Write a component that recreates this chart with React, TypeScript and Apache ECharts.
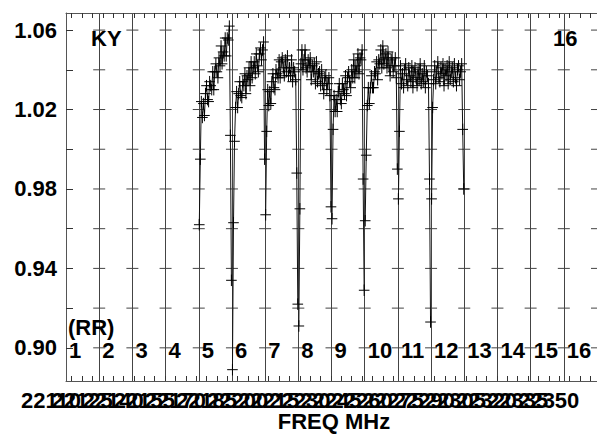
import React, { useEffect, useRef } from "react";
import * as echarts from "echarts";

// ---- axis furniture ----
const IF_NUMBERS = ["1", "2", "3", "4", "5", "6", "7", "8", "9", "10", "11", "12", "13", "14", "15", "16"];
const Y_TICKS = [0.9, 0.92, 0.94, 0.96, 0.98, 1.0, 1.02, 1.04, 1.06];
const Y_LABELS = [0.9, 0.94, 0.98, 1.02, 1.06];
const Y_MIN = 0.8833;
const Y_MAX = 1.0686;
const IF_BW = 16; // MHz per IF
const F_LEFT = 22117.26; // MHz at the left edge of IF 1
const X_LABEL_FREQS = [22110, 22125, 22140, 22155, 22170, 22185, 22200, 22215, 22230, 22245, 22260, 22275, 22290, 22305, 22320, 22335, 22350];
const TICK_FREQ_FIRST = 22120;
const TICK_FREQ_LAST = 22370;
const TICK_STEP = 5;
const toIF = (f: number) => (f - F_LEFT) / IF_BW;
const X_TICKS: number[] = [];
for (let f = TICK_FREQ_FIRST; f <= TICK_FREQ_LAST; f += TICK_STEP) X_TICKS.push(toIF(f));

// ---- bandpass amplitudes per IF (channels) ----
const IF5 = [0.962, 0.995, 1.024, 1.016, 1.023, 1.017, 1.028, 1.032, 1.025, 1.024, 1.034, 1.032, 1.030, 1.039, 1.030, 1.039, 1.043, 1.039, 1.036, 1.046, 1.042, 1.052, 1.043, 1.049, 1.047, 1.056, 1.047, 1.056, 1.055, 1.062, 1.007, 0.934];
const IF6 = [0.889, 0.963, 1.004, 1.021, 1.029, 1.021, 1.028, 1.034, 1.027, 1.026, 1.034, 1.032, 1.038, 1.028, 1.037, 1.035, 1.041, 1.032, 1.044, 1.036, 1.041, 1.044, 1.038, 1.048, 1.042, 1.039, 1.048, 1.051, 1.045, 1.050, 1.054, 0.995];
const IF7 = [0.967, 1.009, 1.030, 1.022, 1.029, 1.023, 1.034, 1.038, 1.031, 1.030, 1.040, 1.038, 1.036, 1.045, 1.036, 1.044, 1.046, 1.041, 1.037, 1.045, 1.039, 1.047, 1.037, 1.041, 1.037, 1.045, 1.034, 1.041, 1.039, 1.035, 0.988, 0.922];
const IF8 = [0.911, 0.970, 1.043, 1.050, 1.040, 1.045, 1.050, 1.041, 1.039, 1.045, 1.042, 1.046, 1.035, 1.042, 1.039, 1.043, 1.033, 1.044, 1.034, 1.038, 1.039, 1.032, 1.040, 1.033, 1.028, 1.036, 1.037, 1.030, 1.033, 1.036, 1.027, 0.971];
const IF9 = [0.965, 1.010, 1.027, 1.019, 1.025, 1.019, 1.029, 1.033, 1.025, 1.023, 1.033, 1.030, 1.028, 1.037, 1.027, 1.036, 1.039, 1.034, 1.031, 1.040, 1.036, 1.045, 1.036, 1.042, 1.039, 1.048, 1.038, 1.046, 1.045, 1.050, 0.985, 0.929];
const IF10 = [0.964, 0.997, 1.022, 1.031, 1.023, 1.031, 1.037, 1.031, 1.031, 1.039, 1.038, 1.044, 1.035, 1.045, 1.043, 1.050, 1.041, 1.052, 1.043, 1.046, 1.048, 1.041, 1.049, 1.042, 1.037, 1.045, 1.046, 1.039, 1.042, 1.046, 1.036, 0.990];
const IF11 = [0.975, 1.009, 1.042, 1.033, 1.038, 1.031, 1.040, 1.043, 1.035, 1.032, 1.041, 1.037, 1.034, 1.042, 1.031, 1.039, 1.041, 1.036, 1.032, 1.040, 1.035, 1.043, 1.033, 1.038, 1.034, 1.042, 1.031, 1.039, 1.037, 1.033, 0.985, 0.913];
const IF12 = [0.975, 1.021, 1.035, 1.042, 1.033, 1.039, 1.044, 1.036, 1.034, 1.041, 1.038, 1.043, 1.032, 1.040, 1.037, 1.042, 1.033, 1.044, 1.035, 1.039, 1.041, 1.034, 1.043, 1.036, 1.032, 1.040, 1.042, 1.035, 1.039, 1.043, 1.010, 0.980];
const IF_DATA: { ifNum: number; values: number[] }[] = [
  { ifNum: 5, values: IF5 },
  { ifNum: 6, values: IF6 },
  { ifNum: 7, values: IF7 },
  { ifNum: 8, values: IF8 },
  { ifNum: 9, values: IF9 },
  { ifNum: 10, values: IF10 },
  { ifNum: 11, values: IF11 },
  { ifNum: 12, values: IF12 },
];
const ERR = 0.0029; // amplitude error bar (half length)
const HALF_W = 0.16; // half channel-bar width, IF units

const FONT = "'Liberation Sans', Arial, sans-serif";

export default function App() {
  const ref = useRef<HTMLDivElement>(null);
  useEffect(() => {
    const chart = echarts.init(ref.current!, null, { renderer: "svg" });
    const series: any[] = [];
    const crossData: number[][] = [];
    IF_DATA.forEach(({ ifNum, values }) => {
      const pts = values.map((v, i) => [ifNum - 1 + (i + 0.5) / values.length, v]);
      pts.forEach((p) => crossData.push(p));
      series.push({
        type: "line",
        data: pts,
        symbol: "none",
        lineStyle: { color: "#111", width: 1 },
        z: 3,
      });
    });
    series.push({
      type: "custom",
      data: crossData,
      z: 4,
      renderItem: (_p: any, api: any) => {
        const x = api.value(0);
        const y = api.value(1);
        const l = api.coord([x - HALF_W, y]);
        const r = api.coord([x + HALF_W, y]);
        const t = api.coord([x, y + ERR]);
        const b = api.coord([x, y - ERR]);
        const st = { stroke: "#000", lineWidth: 1 };
        return {
          type: "group",
          children: [
            { type: "line", shape: { x1: l[0], y1: l[1], x2: r[0], y2: r[1] }, style: st },
            { type: "line", shape: { x1: t[0], y1: t[1], x2: b[0], y2: b[1] }, style: st },
          ],
        };
      },
    });
    // short horizontal ticks on every IF separator
    const sepTicks: number[][] = [];
    for (let k = 1; k <= 16; k++) Y_TICKS.forEach((v) => sepTicks.push([k, v]));
    series.push({
      type: "custom",
      data: sepTicks,
      z: 2,
      silent: true,
      renderItem: (_p: any, api: any) => {
        const c = api.coord([api.value(0), api.value(1)]);
        return {
          type: "line",
          shape: { x1: c[0] - 6, y1: c[1], x2: c[0] + 6, y2: c[1] },
          style: { stroke: "#444", lineWidth: 1 },
        };
      },
    });

    const grid = { left: 66, top: 13, width: 533, height: 368, containLabel: false };
    chart.setOption({
      animation: false,
      backgroundColor: "#fff",
      grid,
      xAxis: [
        {
          type: "value",
          min: 0,
          max: 16,
          position: "bottom",
          axisLine: { show: true, lineStyle: { color: "#555", width: 1 } },
          axisTick: { show: true, inside: true, length: 5, customValues: X_TICKS, lineStyle: { color: "#333" } },
          axisLabel: { show: false },
          splitLine: { show: false },
        },
        {
          type: "value",
          min: 0,
          max: 16,
          position: "top",
          axisLine: { show: true, lineStyle: { color: "#555", width: 1 } },
          axisTick: { show: true, inside: true, length: 5, customValues: X_TICKS, lineStyle: { color: "#333" } },
          axisLabel: { show: false },
          splitLine: { show: false },
        },
        {
          type: "value",
          min: 0,
          max: 16,
          interval: 1,
          show: true,
          position: "bottom",
          axisLine: { show: false },
          axisTick: { show: false },
          axisLabel: { show: false },
          splitLine: { show: true, lineStyle: { color: "#444", width: 1 } },
        },
      ],
      yAxis: {
        type: "value",
        min: Y_MIN,
        max: Y_MAX,
        axisLine: { show: true, lineStyle: { color: "#555", width: 1 } },
        axisTick: { show: true, inside: true, length: 7, customValues: Y_TICKS, lineStyle: { color: "#333" } },
        axisLabel: {
          show: true,
          customValues: Y_LABELS,
          formatter: (v: number) => v.toFixed(2),
          fontSize: 22,
          fontWeight: "bold",
          fontFamily: FONT,
          color: "#000",
          margin: 9,
        },
        splitLine: { show: false },
      },
      series,
    });

    const texts: any[] = [];
    const tStyle = (s: string, extra: any = {}) => ({
      text: s,
      fontSize: 22,
      fontWeight: "bold",
      fontFamily: FONT,
      fill: "#000",
      ...extra,
    });
    IF_NUMBERS.forEach((s, i) => {
      const p = chart.convertToPixel({ gridIndex: 0 }, [i, 0.9]) as number[];
      texts.push({ type: "text", x: p[0] + 3, y: p[1] + 3, style: tStyle(s, { verticalAlign: "middle", align: "left" }), z: 10 });
    });
    X_LABEL_FREQS.forEach((f) => {
      const p = chart.convertToPixel({ gridIndex: 0 }, [toIF(f), Y_MIN]) as number[];
      texts.push({ type: "text", x: p[0], y: p[1] + 19, style: tStyle(String(f), { verticalAlign: "middle", align: "center" }), z: 10 });
    });
    texts.push({ type: "text", left: 91, top: 27, style: tStyle("KY"), z: 10 });
    texts.push({ type: "text", left: 553, top: 27, style: tStyle("16"), z: 10 });
    texts.push({ type: "text", left: 68, top: 316, style: tStyle("(RR)"), z: 10 });
    texts.push({ type: "text", x: 334, y: 421, style: tStyle("FREQ MHz", { align: "center", verticalAlign: "middle" }), z: 10 });
    chart.setOption({ graphic: { elements: texts } });

    return () => chart.dispose();
  }, []);
  return <div ref={ref} style={{ position: "fixed", left: 0, top: 0, width: 597, height: 434 }} />;
}
